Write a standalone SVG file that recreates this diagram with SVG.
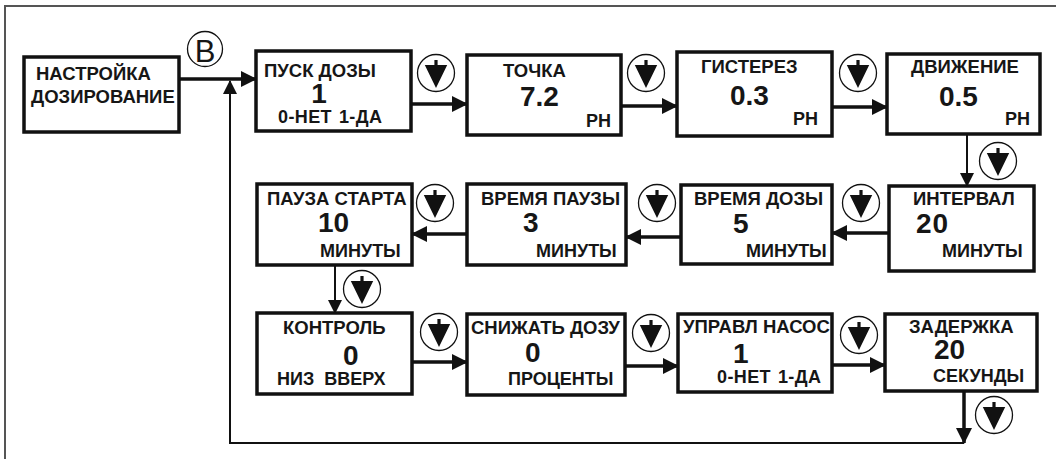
<svg xmlns="http://www.w3.org/2000/svg" width="1056" height="459" viewBox="0 0 1056 459">
<style>
.box{fill:#fff;stroke:#111;stroke-width:3.5}
.t{font-family:"Liberation Sans",Arial,sans-serif;font-weight:bold;font-size:18.5px;fill:#161616}
.v{font-family:"Liberation Sans",Arial,sans-serif;font-weight:bold;font-size:28px;fill:#161616}
.u{font-family:"Liberation Sans",Arial,sans-serif;font-weight:bold;font-size:18px;fill:#161616}
.w{fill:none;stroke:#111;stroke-width:3.5}
.n{fill:none;stroke:#111;stroke-width:2}
.ic{fill:#fff;stroke:#111;stroke-width:1.3}
.it{fill:#111}
</style>
<defs>
<marker id="ah" markerUnits="userSpaceOnUse" markerWidth="16" markerHeight="16" refX="15" refY="8" orient="auto" viewBox="0 0 16 16"><path d="M0,0 L16,8 L0,16 z" fill="#111"/></marker>
<marker id="as" markerUnits="userSpaceOnUse" markerWidth="14" markerHeight="14" refX="13" refY="7" orient="auto" viewBox="0 0 14 14"><path d="M0,0 L14,7 L0,14 z" fill="#111"/></marker>
<g id="down">
<circle class="ic" r="18.5"/>
<path class="it" d="M-1.6,-13 h3.2 v5 h9.6 l-11.2,23 l-11.2,-23 h9.6 z"/>
</g>
</defs>
<rect width="1056" height="459" fill="#fff"/>
<path d="M5,459 V6 H1056" fill="none" stroke="#555" stroke-width="2"/>

<g id="connectors">
<line class="w" x1="180" y1="79" x2="256" y2="79" marker-end="url(#ah)"/>
<path class="n" d="M964,443 H230 V81" marker-end="url(#as)"/>
<line class="w" x1="411" y1="104" x2="467" y2="104" marker-end="url(#ah)"/>
<line class="w" x1="621" y1="106" x2="677" y2="106" marker-end="url(#ah)"/>
<line class="w" x1="832" y1="107" x2="887" y2="107" marker-end="url(#ah)"/>
<line class="n" x1="967" y1="134" x2="967" y2="186" marker-end="url(#as)"/>
<line class="w" x1="889" y1="233" x2="832" y2="233" marker-end="url(#ah)"/>
<line class="w" x1="681" y1="237" x2="626" y2="237" marker-end="url(#ah)"/>
<line class="w" x1="467" y1="234" x2="412" y2="234" marker-end="url(#ah)"/>
<line class="n" x1="335" y1="265" x2="335" y2="313" marker-end="url(#as)"/>
<line class="w" x1="412" y1="362" x2="467" y2="362" marker-end="url(#ah)"/>
<line class="w" x1="625" y1="366" x2="678" y2="366" marker-end="url(#ah)"/>
<line class="w" x1="832" y1="365" x2="885" y2="365" marker-end="url(#ah)"/>
<line class="w" x1="964" y1="391" x2="964" y2="443" marker-end="url(#ah)"/>
</g>

<g id="icons">
<g id="mark-b"><circle class="ic" cx="205" cy="49" r="17.5"/><text x="205" y="62" text-anchor="middle" font-family="Liberation Sans,Arial,sans-serif" font-size="31" fill="#161616">В</text></g>
<use href="#down" x="436" y="73"/>
<use href="#down" x="646" y="73"/>
<use href="#down" x="858" y="73"/>
<use href="#down" x="998" y="161"/>
<use href="#down" x="861" y="203"/>
<use href="#down" x="657" y="203"/>
<use href="#down" x="435" y="203"/>
<use href="#down" x="362" y="289"/>
<use href="#down" x="439" y="332"/>
<use href="#down" x="651" y="333"/>
<use href="#down" x="859" y="335"/>
<use href="#down" x="994" y="415"/>
</g>

<g id="n-nastroyka">
<rect class="box" x="24" y="57" width="155" height="75"/>
<text class="t" x="36" y="80" font-size="19.5">НАСТРОЙКА</text>
<text class="t" x="31" y="103" font-size="19.5">ДОЗИРОВАНИЕ</text>
</g>
<g id="n-pusk">
<rect class="box" x="256" y="51" width="155" height="80"/>
<text class="t" x="264" y="76.5">ПУСК ДОЗЫ</text>
<text class="v" x="319" y="102.5" text-anchor="middle" font-size="23">1</text>
<text class="u" x="278" y="123" word-spacing="1.5" letter-spacing="0.4">0-НЕТ 1-ДА</text>
</g>
<g id="n-tochka">
<rect class="box" x="467" y="55" width="154" height="80"/>
<text class="t" x="503" y="77">ТОЧКА</text>
<text class="v" x="520" y="106">7.2</text>
<text class="u" x="586" y="127">РН</text>
</g>
<g id="n-gisterez">
<rect class="box" x="677" y="52" width="155" height="84"/>
<text class="t" x="701" y="73">ГИСТЕРЕЗ</text>
<text class="v" x="730" y="105">0.3</text>
<text class="u" x="793" y="125">РН</text>
</g>
<g id="n-dvizhenie">
<rect class="box" x="887" y="54" width="153" height="80"/>
<text class="t" x="911" y="73">ДВИЖЕНИЕ</text>
<text class="v" x="939" y="106">0.5</text>
<text class="u" x="1005" y="125">РН</text>
</g>
<g id="n-interval">
<rect class="box" x="889" y="186" width="145" height="85"/>
<text class="t" x="913" y="205">ИНТЕРВАЛ</text>
<text class="v" x="916" y="233" font-size="29" letter-spacing="1">20</text>
<text class="u" x="942" y="257">МИНУТЫ</text>
</g>
<g id="n-vremya-dozy">
<rect class="box" x="681" y="185" width="151" height="79"/>
<text class="t" x="694" y="205">ВРЕМЯ ДОЗЫ</text>
<text class="v" x="733" y="233">5</text>
<text class="u" x="746" y="257">МИНУТЫ</text>
</g>
<g id="n-vremya-pauzy">
<rect class="box" x="467" y="184" width="159" height="81"/>
<text class="t" x="481" y="205">ВРЕМЯ ПАУЗЫ</text>
<text class="v" x="523" y="232">3</text>
<text class="u" x="536" y="257">МИНУТЫ</text>
</g>
<g id="n-pauza-starta">
<rect class="box" x="257" y="184" width="155" height="81"/>
<text class="t" x="267" y="205">ПАУЗА СТАРТА</text>
<text class="v" x="318" y="232">10</text>
<text class="u" x="320" y="257">МИНУТЫ</text>
</g>
<g id="n-kontrol">
<rect class="box" x="257" y="313" width="155" height="81"/>
<text class="t" x="283" y="334">КОНТРОЛЬ</text>
<text class="v" x="343" y="365">0</text>
<text class="u" x="277" y="385" xml:space="preserve">НИЗ  ВВЕРХ</text>
</g>
<g id="n-snizhat">
<rect class="box" x="467" y="314" width="158" height="81"/>
<text class="t" x="471" y="334">СНИЖАТЬ ДОЗУ</text>
<text class="v" x="525" y="362">0</text>
<text class="u" x="508" y="385">ПРОЦЕНТЫ</text>
</g>
<g id="n-upravl">
<rect class="box" x="678" y="314" width="154" height="78"/>
<text class="t" x="683" y="333">УПРАВЛ НАСОС</text>
<text class="v" x="733" y="363" font-size="26">1</text>
<text class="u" x="717" y="383" word-spacing="1.5" letter-spacing="0.4">0-НЕТ 1-ДА</text>
</g>
<g id="n-zaderzhka">
<rect class="box" x="885" y="314" width="152" height="77"/>
<text class="t" x="909" y="333">ЗАДЕРЖКА</text>
<text class="v" x="934" y="359">20</text>
<text class="u" x="933" y="382">СЕКУНДЫ</text>
</g>
</svg>
